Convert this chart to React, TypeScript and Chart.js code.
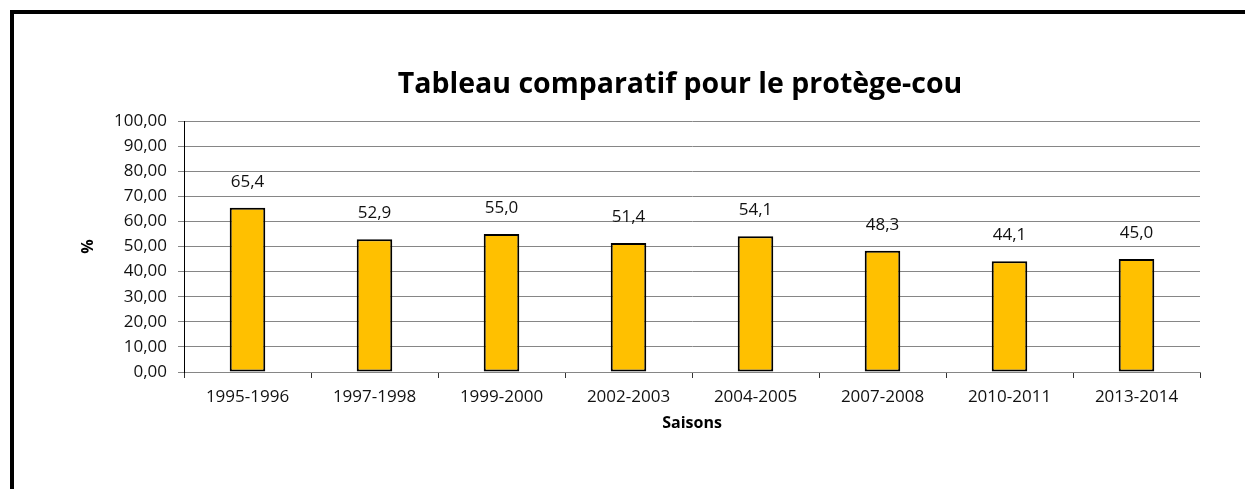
import React, { useEffect, useRef } from "react";
import { Chart, registerables } from "chart.js";

Chart.register(...registerables);

const TITLE = "Tableau comparatif pour le protège-cou";
const X_TITLE = "Saisons";
const Y_TITLE = "%";
const seasons = [
  "1995-1996",
  "1997-1998",
  "1999-2000",
  "2002-2003",
  "2004-2005",
  "2007-2008",
  "2010-2011",
  "2013-2014",
];
const percentages = [65.4, 52.9, 55.0, 51.4, 54.1, 48.3, 44.1, 45.0];
const yTicks = [0, 10, 20, 30, 40, 50, 60, 70, 80, 90, 100];

const FONT = "'Open Sans', 'Liberation Sans', sans-serif";
const fmt = (v: number, d: number) => v.toFixed(d).replace(".", ",");

const textPlugin = {
  id: "textPlugin",
  afterDatasetsDraw(chart: any) {
    const ctx = chart.ctx;
    const area = chart.chartArea;
    ctx.save();
    // data labels
    const meta = chart.getDatasetMeta(0);
    ctx.fillStyle = "#111";
    ctx.font = `17px ${FONT}`;
    ctx.textAlign = "center";
    ctx.textBaseline = "middle";
    meta.data.forEach((bar: any, i: number) => {
      ctx.fillText(fmt(percentages[i], 1), bar.x, bar.y - 26);
    });
    // title
    ctx.fillStyle = "#000";
    ctx.font = `bold 28.5px ${FONT}`;
    ctx.fillText(TITLE, 680, 85);
    // x title
    ctx.font = `bold 16px ${FONT}`;
    ctx.fillText(X_TITLE, (area.left + area.right) / 2, 423);
    // y title
    ctx.translate(88, (area.top + area.bottom) / 2);
    ctx.rotate(-Math.PI / 2);
    ctx.font = `bold 16px ${FONT}`;
    ctx.fillText(Y_TITLE, 0, 0);
    ctx.restore();
  },
};

export default function App() {
  const ref = useRef<HTMLCanvasElement | null>(null);
  useEffect(() => {
    if (!ref.current) return;
    const chart = new Chart(ref.current, {
      type: "bar",
      data: {
        labels: seasons,
        datasets: [
          {
            data: percentages,
            backgroundColor: "#FFC000",
            borderColor: "#000",
            borderWidth: 2,
            borderSkipped: false,
            barPercentage: 0.28,
            categoryPercentage: 1,
          },
        ],
      },
      options: {
        responsive: false,
        animation: false,
        devicePixelRatio: 1,
        layout: { padding: { left: 0, right: 45, top: 121, bottom: 0 } },
        plugins: {
          legend: { display: false },
          title: { display: false },
          tooltip: { enabled: false },
        },
        scales: {
          x: {
            offset: true,
            grid: {
              drawOnChartArea: false,
              drawTicks: true,
              tickLength: 6,
              color: "#333",
            },
            border: { display: true, color: "#868686", width: 1 },
            ticks: {
              color: "#111",
              font: { family: FONT, size: 17 },
              padding: 9,
              maxRotation: 0,
              autoSkip: false,
            },
            afterFit(scale: any) {
              scale.height = 489 - 372;
            },
          },
          y: {
            min: 0,
            max: 100,
            afterBuildTicks(scale: any) {
              scale.ticks = yTicks.map((v) => ({ value: v }));
            },
            grid: {
              color: "#868686",
              lineWidth: 1,
              tickLength: 6,
            },
            border: { display: true, color: "#000", width: 1 },
            ticks: {
              color: "#111",
              font: { family: FONT, size: 17 },
              padding: 11,
              callback: (v: any) => fmt(Number(v), 2),
            },
            afterFit(scale: any) {
              scale.width = 184;
            },
          },
        },
      },
      plugins: [textPlugin],
    });
    return () => chart.destroy();
  }, []);

  return (
    <div style={{ position: "fixed", left: 0, top: 0, width: 1245, height: 489, background: "#fff", overflow: "hidden" }}>
      <div
        style={{
          position: "absolute",
          left: 10,
          top: 10,
          width: 1300,
          height: 600,
          borderLeft: "4px solid #000",
          borderTop: "4px solid #000",
        }}
      />
      <canvas ref={ref} width={1245} height={489} style={{ position: "absolute", left: 0, top: 0 }} />
    </div>
  );
}
